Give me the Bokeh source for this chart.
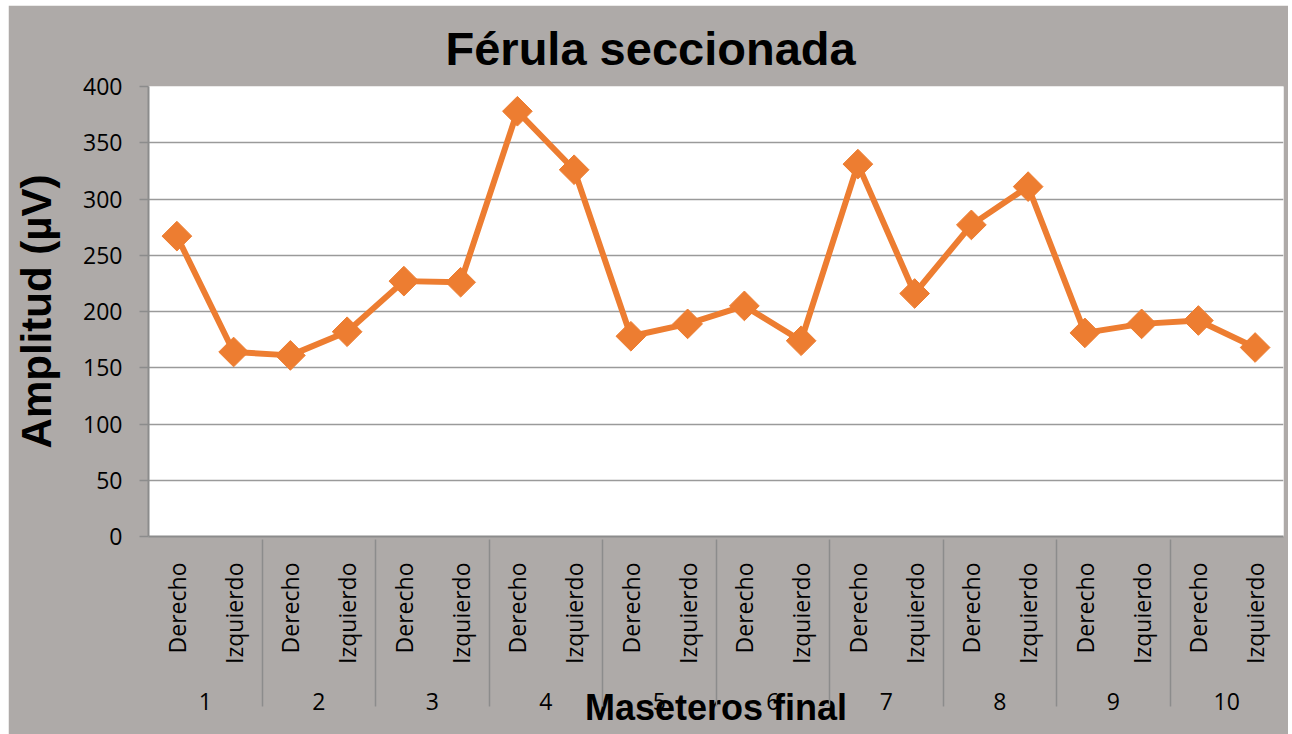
from bokeh.plotting import figure
from bokeh.models import FactorRange, FixedTicker, ColumnDataSource, Range1d
from bokeh.embed import file_html
from bokeh.resources import INLINE
import numpy as np

grupos = ["1", "2", "3", "4", "5", "6", "7", "8", "9", "10"]
lados = ["Derecho", "Izquierdo"]
amplitud = [267, 164, 161, 182, 227, 226, 378, 326, 178, 189,
            205, 174, 331, 216, 277, 311, 181, 189, 192, 168]
y_ticks = [0, 50, 100, 150, 200, 250, 300, 350, 400]

factores = [(g, l) for g in grupos for l in lados]
src = ColumnDataSource(dict(x=factores, y=amplitud))

BG = "#aeaaa8"
ORANGE = "#ED7D31"
GRID = "#9a9a9a"

p = figure(width=1280, height=729, output_backend="svg", toolbar_location=None,
           x_range=FactorRange(*factores, factor_padding=0, group_padding=0, range_padding=0),
           y_range=Range1d(0, 400),
           min_border_left=140, min_border_right=5, min_border_top=81, min_border_bottom=198)
p.margin = (5, 0, 0, 8)
p.background_fill_color = "white"
p.border_fill_color = BG
p.outline_line_color = None

p.title.text = "Férula seccionada"
p.title.text_font = "Liberation Sans"
p.title.text_font_size = "47px"
p.title.text_font_style = "bold"
p.title.text_color = "black"
p.title.align = "left"
p.title.offset = 297
p.title.vertical_align = "top"
p.title.standoff = 19

p.line("x", "y", source=src, line_color=ORANGE, line_width=6)
p.scatter("x", "y", source=src, marker="square", angle=np.pi / 4, size=21,
          fill_color=ORANGE, line_color=ORANGE)

# y axis
ya = p.yaxis[0]
ya.ticker = FixedTicker(ticks=y_ticks)
ya.axis_label = "Amplitud (µV)"
ya.axis_label_text_font = "Liberation Sans"
ya.axis_label_text_font_size = "42px"
ya.axis_label_text_font_style = "bold"
ya.axis_label_text_color = "black"
ya.axis_label_standoff = 20
ya.major_label_text_font = "Open Sans"
ya.major_label_text_font_size = "23px"
ya.major_label_text_color = "black"
ya.major_label_standoff = 17
ya.major_tick_out = 9
ya.major_tick_in = 0
ya.minor_tick_line_color = None
ya.axis_line_color = "#8c8c8c"
ya.axis_line_width = 2
ya.major_tick_line_color = "#8c8c8c"
ya.major_tick_line_width = 1.5

# x axis
xa = p.xaxis[0]
xa.axis_label = "Maseteros final"
xa.axis_label_text_font = "Liberation Sans"
xa.axis_label_text_font_size = "36px"
xa.axis_label_text_font_style = "bold"
xa.axis_label_text_color = "black"
xa.axis_label_standoff = -26
xa.major_label_orientation = np.pi / 2
xa.major_label_text_font = "Open Sans"
xa.major_label_text_font_size = "23px"
xa.major_label_text_color = "black"
xa.major_label_standoff = 26
xa.major_tick_out = -15
xa.minor_tick_out = -15
xa.group_text_font = "Open Sans"
xa.group_text_font_size = "23px"
xa.group_text_font_style = "normal"
xa.group_text_color = "black"
xa.group_label_orientation = "horizontal"
xa.major_tick_line_color = None
xa.axis_line_color = "#8c8c8c"
xa.axis_line_width = 2
xa.separator_line_color = "#8c8c8c"
xa.separator_line_width = 1.5

p.xgrid.grid_line_color = None
p.ygrid.grid_line_color = GRID
p.ygrid.grid_line_width = 1.5
p.ygrid.ticker = FixedTicker(ticks=y_ticks)

open("out.html", "w").write(file_html(p, INLINE))
